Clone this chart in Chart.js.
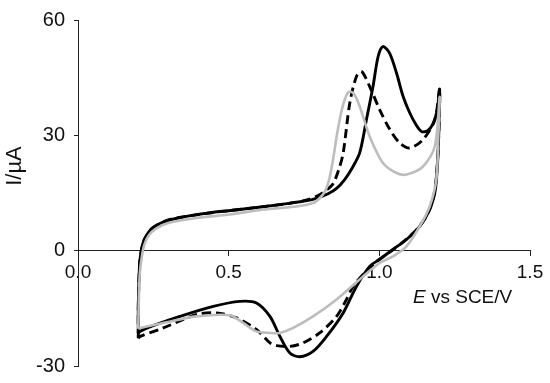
<!DOCTYPE html>
<html>
<head>
<meta charset="utf-8">
<script src="https://cdn.jsdelivr.net/npm/chart.js@4/dist/chart.umd.min.js"></script>
<style>
  html, body { margin: 0; padding: 0; background: #fff; }
  #wrap { width: 550px; height: 383px; position: relative; }
</style>
</head>
<body>
<div id="wrap"><canvas id="cv"></canvas></div>
<script>
// cyclic voltammograms, E (V vs SCE) and I (uA), forward scan then reverse scan
const solidE = [0.200, 0.200, 0.202, 0.205, 0.210, 0.218, 0.228, 0.245, 0.270, 0.300, 0.340, 0.390, 0.450, 0.500, 0.600, 0.700, 0.760, 0.791, 0.830, 0.858, 0.885, 0.910, 0.935, 0.957, 0.979, 0.996, 1.012, 1.034, 1.057, 1.079, 1.100, 1.120, 1.140, 1.160, 1.178, 1.192, 1.200,
                1.198, 1.195, 1.190, 1.184, 1.167, 1.134, 1.090, 1.045, 1.000, 0.968, 0.924, 0.880, 0.825, 0.780, 0.736, 0.703, 0.670, 0.637, 0.592, 0.537, 0.449, 0.338, 0.261, 0.206, 0.200];
const solidI = [-21.5, -15, -8, -3, 0, 2.5, 4.0, 5.8, 7.0, 7.9, 8.6, 9.3, 10.0, 10.4, 11.3, 12.3, 13.0, 13.6, 14.8, 16.2, 18.5, 21.5, 25.5, 34.0, 42.7, 50.5, 53.1, 51.4, 46.2, 40.1, 36.0, 33.0, 31.0, 31.2, 33.0, 36.5, 42.0,
                33.0, 25.4, 19.0, 15.0, 10.7, 6.3, 2.9, 0.3, -2.3, -4.1, -9.3, -16.2, -22.3, -26.2, -27.6, -26.6, -22.3, -17.1, -13.6, -13.2, -14.5, -17.1, -19.2, -21.0, -21.5];

const dashedE = [0.200, 0.200, 0.202, 0.205, 0.210, 0.218, 0.228, 0.250, 0.300, 0.400, 0.500, 0.600, 0.700, 0.760, 0.800, 0.825, 0.847, 0.865, 0.880, 0.902, 0.924, 0.941, 0.968, 1.001, 1.035, 1.068, 1.101, 1.145, 1.184, 1.200,
                 1.197, 1.190, 1.180, 1.160, 1.130, 1.090, 1.050, 1.000, 0.960, 0.913, 0.891, 0.858, 0.802, 0.747, 0.703, 0.659, 0.637, 0.592, 0.526, 0.460, 0.394, 0.283, 0.206, 0.200];
const dashedI = [-22.8, -15, -8, -3, 0, 2.5, 4.0, 6.0, 8.0, 9.4, 10.4, 11.3, 12.3, 13.2, 14.5, 15.8, 17.5, 21.0, 25.4, 38.4, 45.3, 46.6, 42.7, 36.7, 31.5, 28.0, 26.7, 28.9, 34.0, 42.0,
                 30.0, 20.0, 14.0, 9.5, 6.0, 3.0, 0.5, -2.3, -5.0, -9.3, -12.7, -17.1, -21.4, -24.0, -24.9, -24.7, -24.0, -20.5, -17.5, -16.2, -16.6, -20.1, -22.3, -22.8];

const grayE = [0.200, 0.202, 0.205, 0.212, 0.220, 0.235, 0.260, 0.300, 0.394, 0.504, 0.614, 0.725, 0.780, 0.800, 0.820, 0.835, 0.848, 0.860, 0.875, 0.890, 0.902, 0.918, 0.935, 0.968, 1.012, 1.057, 1.090, 1.145, 1.184, 1.200,
               1.196, 1.189, 1.167, 1.134, 1.090, 1.045, 1.001, 0.946, 0.858, 0.780, 0.714, 0.670, 0.637, 0.592, 0.548, 0.504, 0.394, 0.283, 0.206, 0.200];
const grayI = [-20.3, -12, -6, -1.5, 1.5, 4.0, 5.8, 7.2, 8.5, 9.4, 10.7, 11.5, 12.4, 13.5, 15.5, 19.0, 24.5, 30.5, 36.5, 40.3, 41.4, 40.5, 37.5, 29.7, 22.8, 20.2, 19.8, 21.9, 27.1, 40.0,
               30.0, 18.5, 11.5, 6.3, 1.1, -1.5, -3.2, -6.7, -12.7, -17.1, -20.1, -21.4, -21.4, -21.0, -18.8, -16.8, -17.1, -18.8, -20.1, -20.3];

const xTicks = [0, 0.5, 1.0, 1.5];
const yTicks = [-30, 0, 30, 60];

function toPoints(es, is) {
  return es.map((e, i) => ({ x: e, y: is[i] }));
}

const axisTitles = {
  id: 'axisTitles',
  afterDraw(chart) {
    const ctx = chart.ctx;
    ctx.save();
    ctx.fillStyle = '#111';
    ctx.textBaseline = 'middle';

    // y title, rotated
    ctx.save();
    ctx.translate(15, 166);
    ctx.rotate(-Math.PI / 2);
    ctx.textAlign = 'center';
    ctx.font = '22px Arial, "Liberation Sans", sans-serif';
    ctx.fillText('I/\u00b5A', 0, 0);
    ctx.restore();

    // x title, italic E
    ctx.textAlign = 'left';
    let x = 413, y = 298;
    ctx.font = 'italic 19px Arial, "Liberation Sans", sans-serif';
    ctx.fillText('E', x, y);
    x += ctx.measureText('E').width;
    ctx.font = '19px Arial, "Liberation Sans", sans-serif';
    ctx.fillText(' vs SCE/V', x, y);
    ctx.restore();
  }
};

const ctx = document.getElementById('cv').getContext('2d');
const chart = new Chart(ctx, {
  type: 'scatter',
  data: {
    datasets: [
      {
        label: 'gray',
        data: toPoints(grayE, grayI),
        showLine: true,
        borderColor: '#bdbdbd',
        borderWidth: 2.6,
        pointRadius: 0,
        tension: 0.3
      },
      {
        label: 'dashed',
        data: toPoints(dashedE, dashedI),
        showLine: true,
        borderColor: '#000',
        borderWidth: 2.9,
        borderDash: [9, 5],
        pointRadius: 0,
        tension: 0.3
      },
      {
        label: 'solid',
        data: toPoints(solidE, solidI),
        showLine: true,
        borderColor: '#000',
        borderWidth: 2.9,
        pointRadius: 0,
        tension: 0.3
      }
    ]
  },
  options: {
    responsive: true,
    maintainAspectRatio: false,
    animation: false,
    layout: { padding: { left: 0, right: 20, top: 20, bottom: 17 } },
    plugins: {
      legend: { display: false },
      tooltip: { enabled: false }
    },
    scales: {
      x: {
        type: 'linear',
        position: { y: 0 },
        min: 0,
        max: 1.5,
        afterBuildTicks: s => { s.ticks = xTicks.map(v => ({ value: v })); },
        afterFit: s => { s.height = 0; },
        ticks: {
          color: '#111',
          font: { family: 'Arial, "Liberation Sans", sans-serif', size: 19 },
          padding: 6,
          callback: v => v.toFixed(1),
          maxRotation: 0
        },
        grid: { display: true, drawOnChartArea: false, tickLength: 5, color: '#222' },
        border: { display: true, color: '#222', width: 1 }
      },
      y: {
        type: 'linear',
        position: 'left',
        min: -30,
        max: 60,
        afterBuildTicks: s => { s.ticks = yTicks.map(v => ({ value: v })); },
        afterFit: s => { s.width = 78; s.paddingTop = 0; s.paddingBottom = 0; },
        ticks: {
          color: '#111',
          font: { family: 'Arial, "Liberation Sans", sans-serif', size: 20 },
          padding: 9
        },
        grid: { display: true, drawOnChartArea: false, tickLength: 4, color: '#222' },
        border: { display: true, color: '#222', width: 1 }
      }
    }
  },
  plugins: [axisTitles]
});
</script>
</body>
</html>
